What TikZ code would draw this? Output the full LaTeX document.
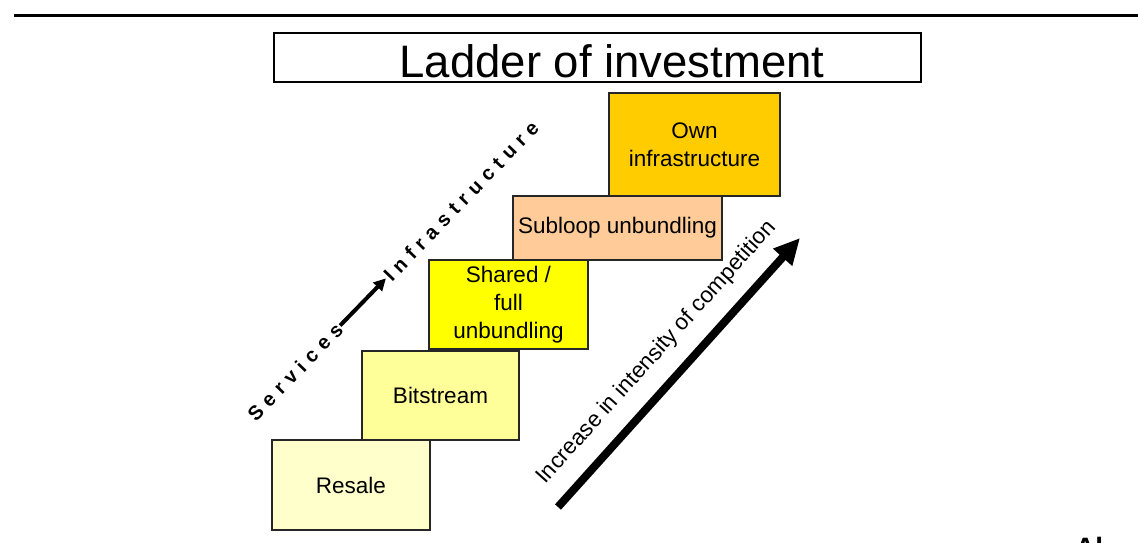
\documentclass[tikz,border=0pt]{standalone}
\usepackage{fontspec}
\setmainfont{Liberation Sans}
\usetikzlibrary{arrows.meta}
\definecolor{resalecol}{HTML}{FFFFCC}
\definecolor{bitcol}{HTML}{FFFF99}
\definecolor{sharedcol}{HTML}{FFFF00}
\definecolor{subloopcol}{HTML}{FFCC99}
\definecolor{owncol}{HTML}{FFCC00}

\begin{document}
\begin{tikzpicture}[x=1pt, y=-1pt,
    rung/.style={draw=black!85, line width=1.5pt, align=center, inner sep=0pt,
      font={\fontsize{22.5}{28}\selectfont}},
    spaced/.style={rotate=46, inner sep=1pt,
      font={\fontsize{20}{22}\selectfont\bfseries\addfontfeature{LetterSpace=32}}}]
  \useasboundingbox (0,0) rectangle (1138,542);
  \coordinate (ruleleft) at (14,15.5);
  \coordinate (ruleright) at (1138,15.5);
  \draw[line width=3pt] (ruleleft) -- (ruleright);

  \node[draw, line width=1.5pt, minimum width=647pt, minimum height=49pt, inner sep=0pt]
    (titlebox) at (597.5,57.5) {};
  \node[anchor=base, inner sep=0pt, font={\fontsize{45.5}{50}\selectfont}]
    (titletext) at (612,77) {Ladder of investment};

  \node[rung, fill=resalecol, minimum width=158pt, minimum height=90pt] (resale) at (351,485) {Resale};
  \node[rung, fill=bitcol, minimum width=157pt, minimum height=89pt] (bitstream) at (440.5,395.5) {Bitstream};
  \node[rung, fill=subloopcol, minimum width=209pt, minimum height=64pt] (subloop) at (617.5,228) {Subloop unbundling};
  \node[rung, fill=sharedcol, minimum width=159pt, minimum height=89pt] (shared) at (508.5,304.5) {Shared /\\ full\\ unbundling};
  \node[rung, fill=owncol, minimum width=171pt, minimum height=103pt] (own) at (694.5,144.5) {Own\\ infrastructure};

  \node[spaced] (services) at (295,372) {Services};
  \node[spaced] (infra) at (461,201) {Infrastructure};
  \draw[line width=4pt, -{Triangle[length=12pt,width=12pt]}] (services) -- (infra);

  \coordinate (low) at (558,507);
  \coordinate (high) at (800,238);
  \draw[line width=8pt, -{Triangle[length=26pt,width=24pt]}] (low) -- (high)
    node[midway, sloped, above=12pt, font={\fontsize{22.5}{26}\selectfont}] (trend)
    {Increase in intensity of competition};

  \node[anchor=base west, inner sep=0pt, font={\fontsize{28}{30}\selectfont\bfseries}]
    (corner) at (1075,557) {Al};
\end{tikzpicture}
\end{document}
